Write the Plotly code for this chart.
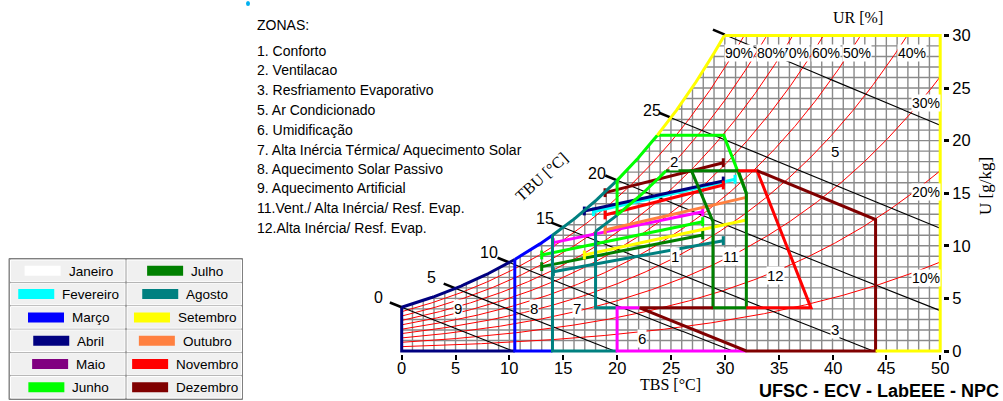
import numpy as np
import plotly.graph_objects as go

# ---------------- values ----------------
P_KPA = 92.0  # station pressure that fits the drawn saturation curve

TBS_TICKS = [0, 5, 10, 15, 20, 25, 30, 35, 40, 45, 50]
U_TICKS = [0, 5, 10, 15, 20, 25, 30]

RH_LEVELS = [10, 20, 30, 40, 50, 60, 70, 80, 90]
RH_LABEL_T = [48.66, 48.66, 48.66, 47.35, 42.25, 39.4, 36.5, 34.3, 31.3]
RH_LABEL_U = [6.91, 15.14, 23.55, 28.3, 28.3, 28.3, 28.3, 28.3, 28.3]

TBU_LEVELS = [0, 5, 10, 15, 20, 25, 30]
TBU_LABELS = ["0", "5", "10", "15", "20", "25"]
TBU_LABEL_T = [-2.2, 2.8, 8.1, 13.3, 18.1, 23.2]
TBU_LABEL_U = [5.13, 6.94, 9.41, 12.55, 16.9, 22.9]

MONTHS = ["Janeiro", "Fevereiro", "Março", "Abril", "Maio", "Junho",
          "Julho", "Agosto", "Setembro", "Outubro", "Novembro", "Dezembro"]
MONTH_SWATCH = ["#FFFFFF", "#00FFFF", "#0000FF", "#000080", "#800080", "#00FF00",
                "#008000", "#008080", "#FFFF00", "#FF8040", "#FF0000", "#800000"]
MONTH_LINE = ["#FFFFFF", "#00FFFF", "#0000FF", "#000080", "#FF00FF", "#00FF00",
              "#008000", "#008080", "#FFFF00", "#FF8040", "#FF0000", "#800000"]
# monthly lines: (TBS min, U at min) -> (TBS max, U at max); None = not visible
TBS_MIN = [None, 17.8, None, 16.96, 14.08, 13.0, 13.0, 14.08, 16.96, 18.88, 18.88, 18.88]
U_AT_MIN = [None, 13.24, None, 13.31, 10.3, 9.13, 8.02, 7.54, 9.13, 11.5, 12.93, 15.05]
TBS_MAX = [None, 30.95, None, 29.86, 27.95, 27.95, 27.95, 29.86, 32.0, 32.0, 29.86, 29.86]
U_AT_MAX = [None, 16.32, None, 16.16, 13.24, 12.29, 11.03, 10.49, 12.45, 14.6, 15.78, 17.9]

ZONE_LIST = ["ZONAS:", "1. Conforto", "2. Ventilacao", "3. Resfriamento Evaporativo",
             "5. Ar Condicionado", "6. Umidificação",
             "7. Alta Inércia Térmica/ Aquecimento Solar", "8. Aquecimento Solar Passivo",
             "9. Aquecimento Artificial", "11.Vent./ Alta Inércia/ Resf. Evap.",
             "12.Alta Inércia/ Resf. Evap."]
ZONE_IDS = ["1", "2", "3", "5", "6", "7", "8", "9", "11", "12"]
ZONE_ID_T = [25.4, 25.3, 40.2, 40.2, 22.3, 16.3, 12.3, 5.26, 30.6, 34.75]
ZONE_ID_U = [9.0, 18.0, 2.06, 18.95, 1.2, 4.06, 4.06, 4.06, 9.03, 7.13]

# zone boundary vertices (TBS degC, U g/kg)
U_FLOOR = 4.1       # bottom of zones 1/11/12, top of zone 6
U_Z1_TOP = 17.14    # top of zones 1/11/12
U_Z2_TOP = 20.5     # top of zone 2
T_Z9 = 10.5
T_Z8 = 14.0
T_Z7 = 18.0
T_Z6 = 20.0
T_TOP = 29.9
Z6_T = [22.1, 20.0, 20.0, 32.0]
Z6_U = [U_FLOOR, U_FLOOR, 0.0, 0.0]
Z3_T = [28.9, 22.1, 32.0, 44.0, 44.0, 33.0]
Z3_U = [U_FLOOR, U_FLOOR, 0.0, 0.0, 12.5, U_Z1_TOP]
Z11_T = [31.25, 32.0, 32.0, 28.9, 28.9, 26.9]
Z11_U = [U_Z1_TOP, 15.0, U_FLOOR, U_FLOOR, 12.3, U_Z1_TOP]
Z12_T = [31.25, 33.0, 38.0, 32.0]
Z12_U = [U_Z1_TOP, U_Z1_TOP, U_FLOOR, U_FLOOR]
Z2_T = [T_TOP, 32.0]
Z2_U = [U_Z2_TOP, 15.0]

NAVY, BLUE, TEAL, MAG = "#000080", "#0000FF", "#008080", "#FF00FF"
DRED, DGRN, RED, LIME, YEL = "#800000", "#008000", "#FF0000", "#00FF00", "#FFFF00"


# ---------------- psychrometric scales ----------------
def p_sat(t):
    t = np.asarray(t, dtype=float)
    return 0.61078 * np.exp(17.27 * t / (t + 237.3))


def u_rh(t, phi):
    ps = phi * p_sat(t)
    return 622.0 * ps / (P_KPA - ps)


def t_rh(u, phi):
    ps = u * P_KPA / (622.0 + u) / phi
    a = np.log(ps / 0.61078)
    return 237.3 * a / (17.27 - a)


def u_wb(t, tw):
    uw = u_rh(tw, 1.0) / 1000.0
    t = np.asarray(t, dtype=float)
    return 1000.0 * ((2501 - 2.326 * tw) * uw - 1.006 * (t - tw)) / (2501 + 1.86 * t - 4.186 * tw)


# ---------------- layout geometry (styling) ----------------
FIG_W, FIG_H = 1003, 401
M_L, M_R, M_T, M_B = 348, 60, 25, 47
X0_PX, X_SC = 401.7, 10.77
Y0_PX, Y_SC = 351.0, 10.52
X_RANGE = [(M_L - X0_PX) / X_SC, (FIG_W - M_R - X0_PX) / X_SC]
Y_RANGE = [(Y0_PX - (FIG_H - M_B)) / Y_SC, (Y0_PX - M_T) / Y_SC]
PW, PH = FIG_W - M_L - M_R, FIG_H - M_T - M_B


def pxp(x):
    return (x - M_L) / PW


def pyp(y):
    return (FIG_H - M_B - y) / PH


FONT = "Arial, Liberation Sans, sans-serif"
SERIF = "Times New Roman, Liberation Serif, serif"

fig = go.Figure()


def add_line(xs, ys, color, width):
    fig.add_trace(go.Scatter(x=list(xs), y=list(ys), mode="lines",
                             line=dict(color=color, width=width),
                             hoverinfo="skip", showlegend=False))


# grid clipped under the saturation curve
gx, gy = [], []
for t in range(0, 51):
    top = min(float(u_rh(t, 1.0)), 30.0)
    gx += [t, t, None]
    gy += [0, top, None]
for u in range(1, 30):
    t0 = max(float(t_rh(u, 1.0)), 0.0)
    gx += [t0, 50, None]
    gy += [u, u, None]
add_line(gx, gy, "#8A8A8A", 1.4)

# relative humidity curves
for rh in RH_LEVELS:
    phi = rh / 100.0
    tt = np.linspace(0, 50, 501)
    uu = u_rh(tt, phi)
    keep = uu <= 30
    xs = list(tt[keep])
    ys = list(uu[keep])
    te = float(t_rh(30.0, phi))
    if te < 50:
        xs.append(te)
        ys.append(30.0)
    add_line(xs, ys, "#FF0000", 1)

# wet bulb lines + ticks
for tw in TBU_LEVELS:
    tt = np.linspace(tw, 50, 800)
    uu = u_wb(tt, tw)
    keep = (uu <= 30) & (uu >= 0)
    add_line(tt[keep], uu[keep], "#000000", 1.1)
    tk = np.linspace(tw - 1.1, tw, 5)
    add_line(tk, u_wb(tk, tw), "#000000", 2.6)

# monthly lines with end caps
CAP = 0.42
for i, m in enumerate(MONTHS):
    if TBS_MIN[i] is None:
        continue
    t1, u1, t2, u2 = TBS_MIN[i], U_AT_MIN[i], TBS_MAX[i], U_AT_MAX[i]
    add_line([t1, t2, None, t1, t1, None, t2, t2],
             [u1, u2, None, u1 - CAP, u1 + CAP, None, u2 - CAP, u2 + CAP],
             MONTH_LINE[i], 3)


# zone boundaries
def sat_seg(t1, t2, phi=1.0):
    tt = np.linspace(t1, t2, 60)
    return tt, u_rh(tt, phi)


ZW = 3
t_z2top = float(t_rh(U_Z2_TOP, 1.0))
t_sat30 = float(t_rh(30.0, 1.0))
t_80top = float(t_rh(U_Z1_TOP, 0.8))

add_line([0, 0, T_Z9], [float(u_rh(0, 1)), 0, 0], NAVY, ZW)
add_line(*sat_seg(0, T_Z9), NAVY, ZW)
add_line([T_Z9, T_Z9, T_Z8], [float(u_rh(T_Z9, 1)), 0, 0], BLUE, ZW)
add_line(*sat_seg(T_Z9, T_Z8), BLUE, ZW)
add_line([T_Z8, T_Z8, T_Z6], [float(u_rh(T_Z8, 1)), 0, 0], TEAL, ZW)
add_line(*sat_seg(T_Z8, T_Z6), TEAL, ZW)
add_line([T_Z6, T_Z7, T_Z7], [U_FLOOR, U_FLOOR, float(u_rh(T_Z7, 0.8))], TEAL, ZW)
add_line(*sat_seg(T_Z7, T_Z6, 0.8), TEAL, ZW)
add_line(Z6_T, Z6_U, MAG, ZW)
add_line(*sat_seg(T_Z6, t_z2top), LIME, ZW)
add_line([t_z2top] + Z2_T, [U_Z2_TOP] + Z2_U, LIME, ZW)
add_line([T_Z6, T_Z6], [float(u_rh(T_Z6, 1)), float(u_rh(T_Z6, 0.8))], LIME, ZW)
add_line(*sat_seg(T_Z6, t_80top, 0.8), LIME, ZW)
add_line([t_80top] + Z11_T, [U_Z1_TOP] + Z11_U, DGRN, ZW)
add_line(Z12_T, Z12_U, RED, ZW)
add_line(Z3_T, Z3_U, DRED, ZW)
add_line(*sat_seg(t_z2top, t_sat30), YEL, ZW)
add_line([t_sat30, 50, 50, 44], [30, 30, 0, 0], YEL, ZW)

ann = []
shapes = []


def label(x, y, text, size, family=FONT, xref="paper", yref="paper", **kw):
    d = dict(x=x, y=y, xref=xref, yref=yref, text=text, showarrow=False,
             xanchor=kw.pop("xanchor", "center"), yanchor=kw.pop("yanchor", "middle"),
             font=dict(family=family, size=size, color="black"))
    d.update(kw)
    ann.append(d)


# bottom tick labels (drawn as text on the TBS scale)
for v in TBS_TICKS:
    label(v, pyp(368), str(v), 16.5, xref="x")

# RH labels
for rh, t, u in zip(RH_LEVELS, RH_LABEL_T, RH_LABEL_U):
    label(t, u, f"{rh}%", 14, xref="x", yref="y", bgcolor="white", borderpad=0)
# TBU labels
for s, t, u in zip(TBU_LABELS, TBU_LABEL_T, TBU_LABEL_U):
    label(t, u, s, 16, xref="x", yref="y")
# zone ids
for s, t, u in zip(ZONE_IDS, ZONE_ID_T, ZONE_ID_U):
    label(t, u, s, 15, xref="x", yref="y", bgcolor="white", borderpad=0)

# zone list text
ZL_Y = [25, 50.5, 70, 90, 110, 129.5, 149.5, 168.5, 188, 208, 227.5]
for s, yy in zip(ZONE_LIST, ZL_Y):
    label(pxp(255), pyp(yy), s, 14, xanchor="left")

# axis titles
label(pxp(542), pyp(177), "TBU [°C]", 16, family=SERIF, textangle=-42)
label(pxp(858), pyp(17), "UR [%]", 16, family=SERIF)
label(pxp(670), pyp(384), "TBS [°C]", 16, family=SERIF)
label(pxp(985), pyp(186), "U [g/kg]", 17, family=SERIF, textangle=-90)
label(pxp(757), pyp(391), "<b>UFSC - ECV - LabEEE - NPC</b>", 18, xanchor="left")

# month legend table
AW = {"J": 500, "a": 556, "n": 556, "e": 556, "i": 222, "r": 333, "o": 556, "F": 611,
      "v": 500, "M": 833, "ç": 500, "A": 667, "b": 556, "l": 222, "u": 556, "h": 556,
      "g": 556, "s": 500, "t": 278, "S": 667, "m": 833, "O": 778, "N": 722, "D": 722,
      "z": 500}
LFS = 13.5
shapes.append(dict(type="rect", xref="paper", yref="paper",
                   x0=pxp(9), x1=pxp(242.5), y0=pyp(399.5), y1=pyp(258.5),
                   fillcolor="#9A9A9A", line=dict(color="#808080", width=1), layer="above"))
COL_X = [10.5, 127.0]
CELL_W, ROW_P, CELL_H = 114.5, 23.3, 21.6
for i, m in enumerate(MONTHS):
    col, row = i // 6, i % 6
    cx0 = COL_X[col]
    cy0 = 260.0 + row * ROW_P
    shapes.append(dict(type="rect", xref="paper", yref="paper",
                       x0=pxp(cx0), x1=pxp(cx0 + CELL_W), y0=pyp(cy0 + CELL_H), y1=pyp(cy0),
                       fillcolor="#F0F0F0", line=dict(color="#FFFFFF", width=1), layer="above"))
    tw = sum(AW.get(c, 556) for c in m) / 1000.0 * LFS
    grp = 36 + 6 + tw
    left = cx0 + CELL_W / 2 - grp / 2
    ym = cy0 + CELL_H / 2
    shapes.append(dict(type="rect", xref="paper", yref="paper",
                       x0=pxp(left), x1=pxp(left + 36), y0=pyp(ym + 5), y1=pyp(ym - 5),
                       fillcolor=MONTH_SWATCH[i], line=dict(width=0), layer="above"))
    label(pxp(left + 42), pyp(ym + 0.5), m, LFS, xanchor="left")

# small cyan mark at the top
shapes.append(dict(type="circle", xref="paper", yref="paper",
                   x0=pxp(246), x1=pxp(250), y0=pyp(6), y1=pyp(1),
                   fillcolor="#00B0F0", line=dict(width=0)))

fig.update_layout(
    width=FIG_W, height=FIG_H,
    margin=dict(l=M_L, r=M_R, t=M_T, b=M_B, pad=0),
    paper_bgcolor="white", plot_bgcolor="rgba(0,0,0,0)",
    showlegend=False,
    annotations=ann, shapes=shapes,
    xaxis=dict(range=X_RANGE, tickvals=TBS_TICKS, ticks="outside", ticklen=5, tickwidth=2,
               tickcolor="black", showgrid=False, zeroline=False, showline=False,
               showticklabels=False, fixedrange=True),
    yaxis=dict(range=Y_RANGE, tickvals=U_TICKS, side="right", ticks="outside", ticklen=5,
               tickwidth=3, tickcolor="black", showgrid=False, zeroline=False, showline=False,
               tickfont=dict(family=FONT, size=16.5, color="black"), fixedrange=True),
)

fig.write_html("out.html", include_plotlyjs=True, config={"displayModeBar": False},
               post_script="document.body.style.margin='0';document.body.style.overflow='hidden';")
